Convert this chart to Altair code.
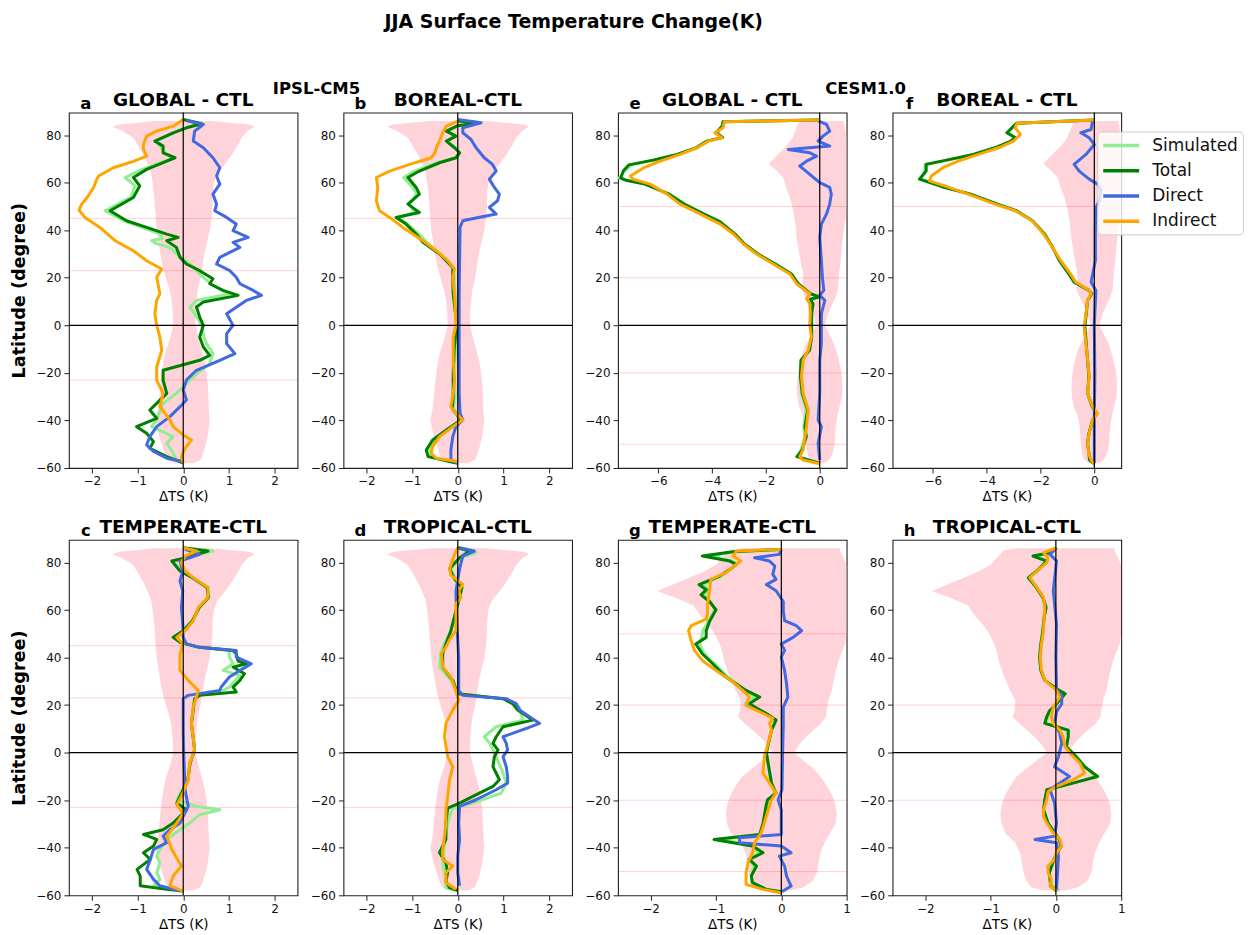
import altair as alt
import pandas as pd

FONT = "DejaVu Sans"
SERIES = ["Simulated", "Total", "Direct", "Indirect"]
COLORS = ["#90ee90", "#008000", "#4169e1", "#ffa500"]
LAT_TICKS = [-60, -40, -20, 0, 20, 40, 60, 80]
LAT_DOMAIN = [-60, 89.5]

# control-run envelopes (lat, low, high)
IPSL_BAND = [(86.0, -0.6, 0.6), (84.5, -1.4, 1.45), (83.5, -1.55, 1.56), (82, -1.35, 1.42), (79, -1.1, 1.28),
             (76, -1.0, 1.2), (72, -0.88, 1.07), (68, -0.78, 0.92), (64, -0.7, 0.75), (60, -0.67, 0.67),
             (55, -0.64, 0.64), (50, -0.62, 0.64), (45, -0.6, 0.62), (40, -0.58, 0.58), (35, -0.54, 0.52),
             (30, -0.5, 0.46), (25, -0.45, 0.42), (20, -0.38, 0.38), (15, -0.3, 0.32), (10, -0.25, 0.29),
             (5, -0.23, 0.27), (0, -0.22, 0.27), (-5, -0.28, 0.33), (-10, -0.37, 0.4), (-15, -0.43, 0.47),
             (-20, -0.47, 0.51), (-25, -0.5, 0.54), (-30, -0.52, 0.55), (-35, -0.55, 0.56), (-40, -0.6, 0.58),
             (-43, -0.57, 0.56), (-47, -0.52, 0.53), (-51, -0.45, 0.48), (-54, -0.4, 0.43), (-56.5, -0.35, 0.38),
             (-58, -0.2, 0.22)]
CESM_BAND = [(86.0, -0.6, 0.9), (85, -0.8, 0.9), (82, -0.9, 0.95), (79, -1.0, 1.0), (76, -1.2, 1.0),
             (72, -1.55, 1.0), (68, -1.9, 1.0), (65, -1.6, 1.0), (62, -1.35, 1.0), (58, -1.25, 1.0),
             (54, -1.12, 1.0), (50, -1.02, 1.0), (46, -0.95, 0.98), (42, -0.9, 0.92), (38, -0.87, 0.87),
             (34, -0.82, 0.83), (30, -0.76, 0.8), (26, -0.7, 0.77), (22, -0.62, 0.72), (18, -0.63, 0.7),
             (15, -0.66, 0.68), (12, -0.55, 0.6), (9, -0.42, 0.47), (5, -0.27, 0.32), (2, -0.18, 0.24),
             (0, -0.14, 0.2), (-3, -0.28, 0.32), (-6, -0.42, 0.46), (-10, -0.6, 0.6), (-14, -0.7, 0.7),
             (-18, -0.78, 0.78), (-22, -0.83, 0.83), (-26, -0.85, 0.85), (-30, -0.83, 0.83), (-34, -0.77, 0.74),
             (-38, -0.62, 0.66), (-42, -0.55, 0.6), (-46, -0.52, 0.57), (-50, -0.5, 0.55), (-54, -0.45, 0.48),
             (-56.5, -0.38, 0.35), (-58, -0.2, 0.15)]

# ---------- IPSL-CM5 : a GLOBAL ----------
A_SIM = [(86.6, 0.0), (84.8, 0.4), (83.1, 0.07), (81.0, -0.2), (77.5, -0.6), (75.4, -0.5), (72.6, -0.4), (70.5, -0.2),
         (68.4, -0.5), (65.6, -0.9), (62.2, -1.27), (58.7, -1.05), (53.8, -1.15), (48.2, -1.71), (44.0, -1.3),
         (41.2, -0.9), (38.4, -0.5), (36.5, -0.45), (35.6, -0.69), (34.5, -0.6), (32.8, -0.3), (28.6, -0.05),
         (25.8, 0.15), (21.6, 0.36), (17.5, 0.6), (14.7, 0.85), (13.3, 1.02), (10.5, 0.29), (7.7, 0.15), (3.5, 0.3),
         (0.0, 0.4), (-4.9, 0.45), (-7.7, 0.51), (-11.9, 0.65), (-16.1, 0.58), (-19.5, 0.35), (-23.0, 0.15),
         (-28.6, -0.15), (-32.8, -0.44), (-39.8, -0.58), (-42.6, -0.69), (-46.8, -0.22), (-49.6, -0.36),
         (-53.6, -0.22), (-56.6, -0.15), (-58.0, 0.0)]
A_TOT = [(86.6, 0.0), (84.8, 0.4), (83.1, 0.07), (81.0, -0.22), (77.5, -0.62), (75.4, -0.44), (72.6, -0.44),
         (70.5, -0.18), (68.4, -0.44), (65.6, -0.8), (62.2, -1.09), (58.7, -0.95), (53.8, -1.09), (48.2, -1.6),
         (44.0, -1.24), (41.2, -0.8), (38.4, -0.36), (37.0, -0.11), (35.6, -0.36), (32.8, -0.15), (28.6, -0.07),
         (25.8, 0.07), (23.0, 0.36), (19.6, 0.65), (17.5, 0.58), (14.7, 0.87), (12.6, 1.2), (9.8, 0.44), (7.7, 0.29),
         (3.5, 0.36), (0.0, 0.44), (-4.9, 0.36), (-9.1, 0.44), (-12.6, 0.58), (-14.7, 0.36), (-18.9, -0.44),
         (-23.0, -0.44), (-28.6, -0.36), (-32.8, -0.58), (-35.6, -0.73), (-39.1, -0.58), (-42.6, -1.02),
         (-45.4, -0.8), (-48.9, -0.65), (-51.7, -0.73), (-55.2, -0.36), (-57.3, -0.07), (-58.0, 0.0)]
A_DIR = [(86.2, 0.07), (84.5, 0.44), (81.7, 0.25), (77.5, 0.22), (74.7, 0.44), (70.5, 0.65), (66.3, 0.8), (62.8, 0.73),
         (59.4, 0.8), (55.2, 0.65), (51.0, 0.73), (48.2, 0.69), (45.4, 0.95), (42.6, 1.16), (39.8, 1.09), (37.0, 1.42),
         (34.9, 1.09), (32.8, 1.24), (28.6, 0.8), (25.8, 0.73), (23.0, 1.02), (20.2, 1.16), (17.5, 1.24), (14.7, 1.53),
         (12.6, 1.71), (10.5, 1.38), (4.9, 0.95), (0.0, 1.09), (-3.5, 0.95), (-7.7, 0.95), (-11.9, 1.13), (-14.7, 0.8),
         (-18.9, 0.29), (-23.0, 0.07), (-27.2, 0.0), (-31.4, 0.07), (-34.2, -0.07), (-38.4, -0.29), (-42.6, -0.58),
         (-46.8, -0.73), (-50.3, -0.8), (-53.0, -0.65), (-55.9, -0.36), (-57.3, 0.0)]
A_IND = [(86.6, 0.0), (83.8, -0.22), (81.7, -0.58), (79.6, -0.8), (76.1, -0.87), (74.0, -0.87), (71.2, -0.8),
         (69.0, -1.09), (66.3, -1.53), (62.8, -1.85), (61.5, -1.89), (58.0, -1.96), (53.8, -2.1), (51.0, -2.22),
         (48.5, -2.28), (45.4, -2.15), (41.2, -1.82), (35.6, -1.49), (31.4, -1.09), (27.2, -0.8), (23.7, -0.47),
         (20.2, -0.58), (13.3, -0.51), (10.5, -0.58), (4.9, -0.62), (0.0, -0.58), (-4.9, -0.51), (-10.5, -0.47),
         (-17.5, -0.58), (-23.0, -0.58), (-28.6, -0.44), (-34.2, -0.51), (-39.8, -0.29), (-42.6, -0.22),
         (-46.1, 0.0), (-48.2, 0.18), (-51.7, 0.04), (-55.2, -0.04), (-58.0, 0.0)]

# ---------- IPSL-CM5 : b BOREAL ----------
B_SIM = [(86.0, 0.0), (85.2, 0.5), (84.0, 0.0), (81.7, -0.22), (79.6, -0.05), (77.5, -0.22), (74.7, -0.05), (72.6, 0.05),
         (70.5, -0.02), (68.4, -0.45), (64.9, -0.95), (62.2, -1.18), (58.0, -0.98), (55.2, -0.9), (51.0, -1.05),
         (47.5, -0.95), (45.4, -1.3), (42.6, -1.1), (38.4, -0.85), (34.9, -0.68), (30.0, -0.38), (24.4, -0.1),
         (20.2, -0.08), (13.3, -0.06), (0.0, 0.0), (-10, -0.05), (-20, -0.08), (-30, -0.06), (-35, -0.1),
         (-39.8, 0.1), (-44.0, -0.22), (-48.2, -0.5), (-52.4, -0.62), (-55.2, -0.6), (-57.3, -0.15), (-58.0, 0.0)]
B_TOT = [(86.0, 0.0), (85.2, 0.47), (84.0, 0.0), (81.7, -0.25), (79.6, -0.04), (77.5, -0.25), (74.7, -0.07),
         (72.6, 0.04), (70.5, -0.04), (68.4, -0.4), (64.9, -0.84), (62.2, -1.09), (58.0, -0.91), (55.2, -0.84),
         (51.0, -1.09), (47.5, -0.84), (45.4, -1.35), (42.6, -1.13), (38.4, -0.91), (34.9, -0.76), (30.0, -0.4),
         (24.4, -0.11), (20.2, -0.11), (13.3, -0.1), (4.9, -0.05), (0.0, -0.02), (-10, -0.08), (-20, -0.1),
         (-30, -0.1), (-35, -0.12), (-39.8, 0.07), (-44.0, -0.25), (-48.2, -0.55), (-52.4, -0.69), (-55.2, -0.65),
         (-57.3, -0.18), (-58.0, 0.0)]
B_DIR = [(86.6, 0.0), (85.2, 0.51), (83.1, 0.11), (81.0, 0.11), (78.2, 0.29), (74.7, 0.4), (70.5, 0.58), (67.7, 0.76),
         (64.9, 0.84), (61.5, 0.69), (58.0, 0.8), (55.2, 0.91), (52.4, 0.87), (49.6, 0.69), (46.8, 0.84), (45.4, 0.45),
         (44.0, 0.11), (41.2, 0.05), (27.2, 0.04), (13.3, 0.03), (0.0, 0.03), (-14.7, 0.03), (-28.6, 0.03),
         (-37.0, 0.05), (-39.8, 0.11), (-42.6, -0.04), (-46.8, -0.11), (-52.4, -0.15), (-56.6, -0.15), (-58.0, 0.0)]
B_IND = [(85.9, 0.0), (83.8, -0.25), (81.0, -0.33), (77.5, -0.4), (74.7, -0.47), (72.6, -0.5), (70.5, -0.58),
         (67.7, -1.05), (64.9, -1.49), (62.2, -1.78), (58.0, -1.75), (52.4, -1.78), (48.2, -1.71), (45.4, -1.49),
         (41.2, -1.2), (35.6, -0.76), (31.4, -0.47), (27.2, -0.22), (23.7, -0.07), (20.2, -0.11), (13.3, -0.07),
         (4.9, -0.05), (0.0, -0.04), (-4.9, -0.1), (-14.7, -0.1), (-23.0, -0.07), (-28.6, -0.1), (-34.2, -0.15),
         (-37.0, -0.04), (-39.8, 0.11), (-42.6, -0.11), (-46.8, -0.4), (-51.0, -0.55), (-53.8, -0.58),
         (-55.9, -0.47), (-57.3, 0.0)]

# ---------- IPSL-CM5 : c TEMPERATE ----------
C_SIM = [(86.2, 0.0), (84.8, 0.65), (82.0, 0.07), (80.6, -0.22), (76.4, -0.05), (73.6, 0.22), (69.5, 0.55), (65.3, 0.56),
         (61.1, 0.36), (55.5, 0.22), (51.3, 0.02), (48.5, -0.2), (46.4, -0.05), (44.3, 0.3), (43.0, 1.0), (40.2, 1.01),
         (37.4, 1.09), (34.6, 0.87), (32.5, 1.24), (27.6, 1.01), (25.5, 0.8), (24.1, 0.3), (22.7, 0.25), (12.3, 0.18),
         (1.1, 0.25), (-4.5, 0.15), (-11.4, 0.1), (-18.4, -0.1), (-19.8, -0.14), (-22.6, 0.29), (-24.0, 0.8),
         (-26.1, 0.36), (-29.6, 0.14), (-32.4, -0.07), (-36.5, -0.36), (-40.7, -0.51), (-43.5, -0.58), (-46.3, -0.51),
         (-50.5, -0.58), (-53.3, -0.51), (-56.0, -0.65), (-58.2, 0.0)]
C_TOT = [(86.2, 0.0), (84.8, 0.54), (82.0, 0.07), (80.6, -0.25), (76.4, -0.07), (73.6, 0.2), (69.5, 0.52), (65.3, 0.55),
         (61.1, 0.35), (55.5, 0.2), (51.3, 0.0), (48.5, -0.22), (46.4, -0.07), (44.3, 0.36), (43.0, 1.09), (41.6, 1.16),
         (38.5, 1.2), (37.4, 1.38), (36.0, 1.09), (33.2, 1.34), (30.4, 1.24), (27.6, 1.09), (25.5, 1.16), (24.1, 0.36),
         (22.7, 0.25), (12.3, 0.18), (1.1, 0.25), (-4.5, 0.15), (-11.4, 0.1), (-18.4, -0.07), (-21.2, -0.14),
         (-24.0, 0.07), (-29.6, -0.22), (-32.4, -0.44), (-34.4, -0.87), (-36.5, -0.58), (-39.3, -0.65), (-42.1, -0.87),
         (-44.9, -0.72), (-49.1, -1.01), (-51.9, -0.94), (-56.0, -0.94), (-57.5, -0.36), (-58.2, 0.0)]
C_DIR = [(85.5, 0.04), (83.4, 0.36), (80.6, -0.07), (76.4, -0.01), (72.2, -0.07), (68.0, -0.01), (61.0, -0.04),
         (54.0, -0.01), (48.5, 0.0), (45.7, 0.07), (44.3, 0.36), (43.0, 1.16), (40.2, 1.16), (37.4, 1.49), (34.6, 1.24),
         (31.8, 1.01), (27.6, 0.83), (26.2, 0.8), (24.1, 0.11), (22.7, 0.0), (10.0, 0.0), (0.0, 0.01), (-15.6, 0.04),
         (-22.6, 0.11), (-26.8, 0.0), (-29.6, -0.07), (-32.4, -0.29), (-35.1, -0.44), (-37.9, -0.36), (-40.7, -0.65),
         (-44.9, -0.72), (-49.1, -0.8), (-53.3, -0.65), (-56.0, -0.51), (-58.2, -0.07)]
C_IND = [(86.2, 0.0), (84.8, 0.29), (82.7, 0.04), (79.9, -0.04), (76.4, 0.04), (73.6, 0.22), (69.5, 0.54), (65.3, 0.54),
         (61.1, 0.33), (55.5, 0.22), (51.3, 0.04), (48.5, -0.14), (45.7, 0.0), (41.6, -0.07), (34.6, -0.07),
         (30.4, 0.11), (26.2, 0.33), (19.2, 0.22), (12.3, 0.18), (1.1, 0.25), (-4.5, 0.14), (-11.4, 0.11),
         (-18.4, -0.04), (-21.9, -0.14), (-25.4, 0.0), (-29.6, -0.14), (-35.1, -0.36), (-40.7, -0.25), (-47.7, -0.04),
         (-51.9, -0.22), (-56.0, -0.29), (-58.2, 0.0)]

# ---------- IPSL-CM5 : d TROPICAL ----------
D_SIM = [(86.2, 0.0), (84.1, 0.4), (82.0, 0.05), (77.4, -0.15), (73.0, -0.05), (69.5, 0.1), (65.3, 0.05), (59.7, -0.03),
         (51.3, -0.15), (45.7, -0.3), (41.6, -0.38), (36.0, -0.4), (30.4, -0.15), (24.8, 0.0), (22.7, 0.99),
         (19.2, 1.35), (13.7, 1.42), (10.9, 0.84), (6.7, 0.58), (3.9, 0.7), (-1.7, 0.84), (-8.6, 0.99), (-12.8, 1.06),
         (-17.0, 0.95), (-21.2, 0.33), (-23.3, -0.11), (-29.6, -0.22), (-40.0, -0.3), (-47.0, -0.33), (-54.0, -0.25),
         (-56.8, -0.26), (-58.0, 0.0)]
D_TOT = [(86.2, 0.0), (84.8, 0.26), (82.0, 0.04), (77.4, -0.18), (73.0, -0.07), (69.5, 0.09), (65.3, 0.04),
         (59.7, -0.04), (51.3, -0.15), (45.7, -0.26), (41.6, -0.33), (36.0, -0.33), (30.4, -0.11), (24.8, 0.0),
         (22.7, 0.99), (20.6, 1.2), (17.9, 1.31), (13.7, 1.64), (10.9, 0.99), (6.7, 0.84), (3.9, 0.77), (1.1, 0.88),
         (-1.7, 0.8), (-5.9, 0.77), (-11.4, 0.91), (-14.2, 0.77), (-18.4, 0.33), (-21.2, 0.04), (-23.3, -0.22),
         (-29.6, -0.26), (-36.5, -0.26), (-42.1, -0.4), (-46.3, -0.26), (-50.5, -0.22), (-54.0, -0.26),
         (-56.8, -0.18), (-58.0, 0.0)]
D_DIR = [(86.2, 0.04), (84.8, 0.36), (82.7, 0.11), (77.4, 0.04), (68.0, -0.04), (54.1, -0.02), (40.2, 0.02),
         (26.2, 0.02), (24.1, 0.11), (22.7, 1.06), (20.6, 1.28), (17.9, 1.35), (15.1, 1.57), (12.3, 1.79),
         (10.2, 1.5), (6.7, 0.99), (3.9, 1.06), (1.1, 1.09), (-1.7, 0.99), (-5.9, 1.06), (-10.0, 1.09),
         (-12.8, 1.09), (-15.6, 0.84), (-19.8, 0.4), (-22.6, 0.04), (-29.6, 0.02), (-36.5, 0.04), (-43.5, 0.0),
         (-50.5, 0.0), (-56.0, 0.04)]
D_IND = [(86.2, 0.0), (83.4, -0.07), (77.4, -0.18), (74.6, -0.15), (70.8, 0.11), (68.0, 0.02), (65.3, 0.07),
         (62.5, -0.04), (56.9, -0.04), (51.3, -0.04), (48.5, -0.15), (44.4, -0.26), (41.6, -0.36), (36.0, -0.33),
         (31.8, -0.15), (27.6, -0.07), (22.0, 0.02), (17.9, -0.11), (12.3, -0.26), (6.7, -0.29), (-1.7, -0.22),
         (-5.9, -0.11), (-11.4, -0.18), (-18.4, -0.22), (-24.0, -0.26), (-29.6, -0.26), (-35.1, -0.29),
         (-40.7, -0.33), (-44.9, -0.33), (-47.7, -0.11), (-50.5, -0.26), (-54.7, -0.26), (-57.5, -0.04)]

# ---------- CESM1.0 : e GLOBAL ----------
E_SIM = [(86.4, 0.0), (85.6, -3.6), (84.0, -3.6), (81.0, -3.8), (79.0, -3.6), (77.5, -4.15), (74.7, -4.55), (71.9, -5.25),
         (69.5, -6.15), (67.5, -7.0), (65.0, -7.25), (62.0, -7.45), (61.0, -7.2), (59.4, -6.45), (55.2, -5.6),
         (51.0, -5.0), (46.8, -4.3), (43.5, -3.7), (42.6, -3.62), (38.4, -3.15), (34.2, -2.8), (30.0, -2.3),
         (25.8, -1.68), (21.6, -1.05), (17.5, -0.8), (13.3, -0.33), (12.0, -0.02), (11.0, -0.33), (9.0, -0.28),
         (5.0, -0.3), (0.0, -0.32), (-5.0, -0.3), (-10.5, -0.4), (-14.7, -0.68), (-21.6, -0.7), (-28.6, -0.68),
         (-35.6, -0.5), (-42.6, -0.6), (-46.8, -0.55), (-52.4, -0.7), (-55.2, -0.8), (-58.0, 0.0)]
E_TOT = [(86.4, 0.0), (85.6, -3.6), (84.0, -3.62), (81.0, -3.85), (79.0, -3.62), (77.5, -4.2), (74.7, -4.6),
         (71.9, -5.3), (69.5, -6.2), (67.5, -7.1), (65.0, -7.3), (62.0, -7.4), (61.0, -7.2), (59.4, -6.5),
         (55.2, -5.6), (51.0, -5.05), (46.8, -4.3), (43.5, -3.7), (42.6, -3.6), (38.4, -3.15), (34.2, -2.8),
         (30.0, -2.3), (25.8, -1.65), (21.6, -1.05), (17.5, -0.8), (13.3, -0.35), (12.0, 0.0), (11.0, -0.35),
         (9.0, -0.25), (5.0, -0.3), (0.0, -0.3), (-5.0, -0.3), (-10.5, -0.38), (-14.7, -0.7), (-21.6, -0.72),
         (-28.6, -0.65), (-35.6, -0.45), (-42.6, -0.55), (-46.8, -0.5), (-52.4, -0.65), (-55.2, -0.85), (-58.0, 0.0)]
E_DIR = [(86.0, -0.06), (84.5, 0.25), (81.7, 0.37), (79.6, 0.12), (77.5, -0.06), (75.4, 0.37), (74.0, -1.17),
         (72.6, -0.37), (71.2, -0.12), (69.1, -0.49), (67.0, -0.74), (63.5, -0.37), (60.0, 0.0), (58.0, 0.37),
         (55.2, 0.43), (51.0, 0.37), (46.8, 0.25), (42.6, 0.06), (37.0, 0.0), (27.2, 0.06), (20.2, 0.1), (14.7, 0.15),
         (12.6, 0.0), (10.5, 0.19), (4.9, 0.06), (0.0, 0.06), (-7.7, 0.06), (-14.7, 0.0), (-28.6, 0.0),
         (-39.8, -0.06), (-42.6, 0.06), (-49.6, -0.06), (-56.6, 0.0)]
E_IND = [(86.4, 0.0), (85.6, -3.55), (83.1, -3.6), (81.0, -3.9), (78.9, -3.64), (77.5, -4.14), (74.7, -4.57),
         (71.9, -5.19), (69.1, -5.93), (66.3, -6.54), (62.8, -7.04), (61.5, -6.95), (59.4, -6.3), (55.2, -5.68),
         (51.0, -5.19), (46.8, -4.44), (42.6, -3.7), (38.4, -3.21), (34.2, -2.84), (30.0, -2.35), (25.8, -1.73),
         (21.6, -1.11), (17.5, -0.86), (13.3, -0.37), (11.2, -0.49), (9.1, -0.37), (4.9, -0.35), (0.0, -0.37),
         (-4.9, -0.31), (-10.5, -0.43), (-14.7, -0.62), (-21.6, -0.68), (-28.6, -0.62), (-35.6, -0.43),
         (-42.6, -0.49), (-46.8, -0.55), (-52.4, -0.62), (-55.2, -0.74), (-56.6, -0.62), (-58.2, 0.0)]

# ---------- CESM1.0 : f BOREAL ----------
F_SIM = [(86.4, 0.0), (85.0, -2.9), (84.5, -2.95), (81.0, -3.2), (79.0, -2.95), (77.5, -3.05), (74.7, -3.65),
         (71.9, -4.45), (69.5, -5.45), (67.7, -6.3), (64.9, -6.3), (61.5, -6.45), (58.0, -5.5), (55.2, -4.6),
         (51.0, -3.62), (48.2, -2.9), (44.0, -2.3), (38.4, -1.85), (32.8, -1.55), (27.2, -1.28), (21.6, -0.92),
         (18.2, -0.72), (14.7, -0.2), (13.3, -0.1), (10.5, -0.25), (4.9, -0.3), (-0.7, -0.36), (-7.7, -0.3),
         (-14.7, -0.25), (-21.6, -0.2), (-28.6, -0.25), (-34.2, -0.07), (-37.0, 0.1), (-39.8, -0.06), (-45.4, -0.2),
         (-49.6, -0.25), (-53.8, -0.2), (-56.6, -0.15), (-58.3, 0.0)]
F_TOT = [(86.4, 0.0), (85.0, -2.9), (84.5, -2.94), (81.0, -3.25), (79.0, -2.95), (77.5, -3.1), (74.7, -3.7),
         (71.9, -4.5), (69.5, -5.5), (67.7, -6.25), (64.9, -6.25), (61.5, -6.5), (58.0, -5.56), (55.2, -4.6),
         (51.0, -3.6), (48.2, -2.9), (44.0, -2.3), (38.4, -1.85), (32.8, -1.55), (27.2, -1.3), (21.6, -0.95),
         (18.2, -0.75), (14.7, -0.2), (13.3, -0.1), (10.5, -0.25), (4.9, -0.3), (-0.7, -0.35), (-7.7, -0.3),
         (-14.7, -0.25), (-21.6, -0.2), (-28.6, -0.25), (-34.2, -0.08), (-37.0, 0.1), (-39.8, -0.06), (-45.4, -0.2),
         (-49.6, -0.25), (-53.8, -0.2), (-56.6, -0.18), (-58.3, 0.0)]
F_DIR = [(86.4, -0.06), (82.4, -0.12), (81.0, -0.5), (78.9, -0.19), (76.1, 0.0), (71.9, -0.31), (67.7, -0.75),
         (64.9, -0.56), (61.5, -0.19), (59.4, 0.12), (56.6, 0.25), (52.4, 0.19), (49.6, 0.06), (41.2, 0.04),
         (27.2, 0.04), (18.2, -0.12), (14.7, 0.06), (0.0, 0.0), (-20.0, 0.02), (-40.0, 0.0), (-58.0, 0.0)]
F_IND = [(86.4, 0.0), (85.0, -2.88), (83.1, -2.94), (80.3, -2.75), (77.5, -3.0), (74.7, -3.56), (71.9, -4.31),
         (69.1, -5.06), (66.3, -5.63), (62.8, -6.06), (60.8, -6.13), (58.7, -5.56), (55.2, -4.69), (51.0, -3.69),
         (48.2, -2.94), (44.0, -2.31), (38.4, -1.88), (32.8, -1.56), (27.2, -1.25), (21.6, -0.88), (18.2, -0.69),
         (14.7, -0.19), (13.3, -0.12), (10.5, -0.25), (4.9, -0.31), (-0.7, -0.38), (-7.7, -0.31), (-14.7, -0.25),
         (-21.6, -0.19), (-28.6, -0.25), (-34.2, -0.06), (-37.0, 0.12), (-39.8, -0.06), (-45.4, -0.19),
         (-49.6, -0.25), (-53.8, -0.21), (-56.6, -0.12), (-58.3, 0.0)]

# ---------- CESM1.0 : g TEMPERATE ----------
G_SIM = [(85.5, 0.0), (84.5, -0.72), (82.7, -1.1), (80.6, -0.75), (79.2, -0.68), (77.0, -0.78), (74.2, -0.92),
         (70.7, -1.2), (68.5, -1.12), (66.4, -1.18), (63.6, -1.08), (60.1, -1.02), (55.2, -1.12), (51.3, -1.2),
         (48.5, -1.22), (45.7, -1.25), (41.6, -1.18), (37.4, -1.02), (31.8, -0.82), (26.2, -0.55), (23.4, -0.4),
         (20.6, -0.55), (16.5, -0.25), (13.7, -0.1), (9.5, -0.15), (0.0, -0.22), (-12.8, -0.16), (-17.0, -0.1),
         (-19.8, -0.2), (-21.9, -0.22), (-29.6, -0.27), (-34.4, -0.32), (-36.5, -0.9), (-37.9, -0.65),
         (-39.3, -0.45), (-42.1, -0.35), (-44.9, -0.5), (-47.7, -0.42), (-51.9, -0.46), (-54.7, -0.45),
         (-57.5, -0.23), (-58.5, 0.0)]
G_TOT = [(85.5, 0.0), (84.5, -0.74), (82.7, -1.21), (80.6, -0.79), (79.2, -0.69), (77.0, -0.79), (74.2, -0.95),
         (70.7, -1.26), (68.5, -1.15), (66.4, -1.23), (63.6, -1.1), (60.1, -1.0), (55.2, -1.1), (51.3, -1.15),
         (48.5, -1.15), (45.7, -1.31), (41.6, -1.21), (37.4, -1.05), (31.8, -0.85), (26.2, -0.54), (23.4, -0.33),
         (20.6, -0.49), (16.5, -0.23), (13.7, -0.08), (9.5, -0.15), (0.0, -0.23), (-12.8, -0.15), (-17.0, -0.08),
         (-19.8, -0.21), (-21.9, -0.23), (-29.6, -0.28), (-34.4, -0.33), (-36.5, -1.03), (-37.9, -0.74),
         (-39.3, -0.44), (-42.1, -0.28), (-44.9, -0.49), (-47.7, -0.38), (-51.9, -0.46), (-54.7, -0.44),
         (-57.5, -0.23), (-58.5, 0.0)]
G_DIR = [(85.5, 0.0), (83.4, -0.03), (82.0, -0.41), (80.6, -0.18), (78.5, -0.1), (75.0, -0.13), (72.9, -0.08),
         (70.7, -0.23), (68.1, -0.08), (63.6, 0.03), (59.7, 0.03), (55.5, 0.05), (53.4, 0.23), (51.3, 0.31),
         (48.5, 0.18), (45.7, 0.0), (43.0, 0.05), (40.2, 0.0), (34.6, 0.05), (29.0, 0.08), (23.4, 0.1), (19.2, 0.03),
         (12.3, 0.03), (0.0, 0.02), (-15.6, 0.01), (-19.8, -0.05), (-24.0, 0.0), (-34.4, 0.0), (-35.8, -0.64),
         (-37.9, -0.64), (-39.3, 0.0), (-42.1, 0.15), (-43.5, -0.03), (-47.7, 0.05), (-51.9, 0.08), (-56.1, 0.15),
         (-58.5, 0.01)]
G_IND = [(85.5, 0.0), (84.8, -0.69), (82.7, -0.74), (80.6, -0.62), (78.5, -0.72), (75.7, -0.85), (72.9, -1.08),
         (68.1, -1.1), (62.5, -1.13), (58.3, -1.13), (56.2, -1.15), (53.4, -1.38), (51.3, -1.42), (47.1, -1.38),
         (43.0, -1.33), (38.8, -1.21), (34.6, -1.0), (30.4, -0.77), (26.2, -0.59), (23.4, -0.49), (19.9, -0.54),
         (17.2, -0.33), (14.4, -0.13), (12.3, -0.18), (9.5, -0.15), (3.9, -0.2), (-1.7, -0.26), (-8.6, -0.28),
         (-12.8, -0.18), (-17.0, -0.08), (-19.8, -0.15), (-24.0, -0.2), (-29.6, -0.26), (-33.8, -0.31),
         (-37.9, -0.41), (-42.1, -0.44), (-46.3, -0.51), (-50.5, -0.54), (-55.4, -0.54), (-57.5, -0.28), (-59.0, 0.0)]

# ---------- CESM1.0 : h TROPICAL ----------
H_SIM = [(86.2, 0.01), (84.1, -0.12), (82.7, -0.3), (80.6, -0.14), (76.4, -0.3), (73.6, -0.43), (69.5, -0.3),
         (65.3, -0.2), (61.1, -0.15), (56.9, -0.18), (51.3, -0.2), (45.7, -0.23), (40.2, -0.25), (34.6, -0.23),
         (30.4, -0.17), (26.2, 0.05), (24.8, 0.15), (20.6, 0.02), (17.5, -0.1), (15.1, -0.12), (12.3, -0.15),
         (11.0, 0.0), (9.5, 0.17), (6.7, 0.18), (2.5, 0.17), (-1.7, 0.32), (-5.9, 0.45), (-10.0, 0.6), (-12.8, 0.27),
         (-15.6, -0.12), (-19.8, -0.16), (-24.0, -0.18), (-29.6, -0.12), (-36.5, 0.06), (-39.3, 0.08),
         (-44.9, -0.03), (-50.5, -0.1), (-56.1, -0.05), (-58.2, 0.05)]
H_TOT = [(86.2, 0.01), (84.1, -0.09), (82.7, -0.35), (80.6, -0.14), (76.4, -0.29), (73.6, -0.42), (69.5, -0.3),
         (65.3, -0.2), (61.1, -0.15), (56.9, -0.18), (51.3, -0.2), (45.7, -0.23), (40.2, -0.25), (34.6, -0.23),
         (30.4, -0.17), (26.2, 0.05), (24.8, 0.14), (20.6, 0.01), (17.5, -0.1), (15.1, -0.14), (12.3, -0.17),
         (11.0, 0.0), (9.5, 0.19), (6.7, 0.19), (2.5, 0.16), (-1.7, 0.31), (-5.9, 0.44), (-10.0, 0.64),
         (-12.8, 0.26), (-15.6, -0.14), (-19.8, -0.17), (-24.0, -0.19), (-29.6, -0.12), (-36.5, 0.05),
         (-39.3, 0.08), (-44.9, -0.03), (-50.5, -0.1), (-56.1, -0.08), (-58.2, 0.01)]
H_DIR = [(86.2, 0.01), (83.4, -0.09), (80.6, 0.01), (68.1, -0.04), (54.1, 0.01), (40.2, 0.0), (26.2, 0.01),
         (24.1, 0.09), (20.6, 0.09), (17.2, 0.01), (12.3, -0.02), (8.1, 0.06), (3.9, 0.09), (-1.7, 0.04),
         (-5.9, -0.02), (-10.0, 0.21), (-14.2, -0.02), (-15.6, -0.09), (-21.2, -0.02), (-29.6, 0.01), (-35.1, -0.02),
         (-36.5, -0.32), (-37.9, 0.01), (-43.5, 0.04), (-57.5, 0.01)]
H_IND = [(86.2, 0.01), (84.1, -0.19), (82.0, -0.12), (79.9, -0.14), (76.4, -0.29), (73.6, -0.4), (69.5, -0.29),
         (65.3, -0.19), (61.1, -0.17), (56.9, -0.18), (51.3, -0.19), (45.7, -0.22), (40.2, -0.24), (34.6, -0.22),
         (30.4, -0.17), (26.2, 0.01), (23.4, 0.06), (19.2, -0.04), (15.1, -0.07), (12.3, -0.04), (9.5, 0.06),
         (6.7, 0.11), (2.5, 0.14), (-1.0, 0.24), (-4.5, 0.37), (-8.6, 0.44), (-11.4, 0.26), (-14.2, 0.01),
         (-16.3, -0.12), (-19.8, -0.14), (-24.0, -0.19), (-26.8, -0.19), (-29.6, -0.14), (-33.8, -0.04),
         (-36.5, 0.06), (-39.3, 0.09), (-42.1, 0.01), (-44.9, -0.02), (-47.7, -0.12), (-50.5, -0.12),
         (-53.3, -0.07), (-56.1, -0.09), (-58.2, 0.01)]

IPSL_X = [-2.5, 2.5]
IPSL_TICKS = [-2, -1, 0, 1, 2]
CESM_WIDE_X = [-7.5, 1]
CESM_WIDE_TICKS = [-6, -4, -2, 0]
CESM_X = [-2.5, 1]
CESM_TICKS = [-2, -1, 0, 1]

PANELS = {
    "a": dict(title="GLOBAL - CTL", lines=[A_SIM, A_TOT, A_DIR, A_IND], band=IPSL_BAND, hl=[45, 23, -23], xd=IPSL_X, xt=IPSL_TICKS),
    "b": dict(title="BOREAL-CTL", lines=[B_SIM, B_TOT, B_DIR, B_IND], band=IPSL_BAND, hl=[45], xd=IPSL_X, xt=IPSL_TICKS),
    "c": dict(title="TEMPERATE-CTL", lines=[C_SIM, C_TOT, C_DIR, C_IND], band=IPSL_BAND, hl=[45, 23, -23], xd=IPSL_X, xt=IPSL_TICKS),
    "d": dict(title="TROPICAL-CTL", lines=[D_SIM, D_TOT, D_DIR, D_IND], band=IPSL_BAND, hl=[23, -23], xd=IPSL_X, xt=IPSL_TICKS),
    "e": dict(title="GLOBAL - CTL", lines=[E_SIM, E_TOT, E_DIR, E_IND], band=CESM_BAND, hl=[50, 20, -20, -50], xd=CESM_WIDE_X, xt=CESM_WIDE_TICKS),
    "f": dict(title="BOREAL - CTL", lines=[F_SIM, F_TOT, F_DIR, F_IND], band=CESM_BAND, hl=[50], xd=CESM_WIDE_X, xt=CESM_WIDE_TICKS),
    "g": dict(title="TEMPERATE-CTL", lines=[G_SIM, G_TOT, G_DIR, G_IND], band=CESM_BAND, hl=[50, 20, -20, -50], xd=CESM_X, xt=CESM_TICKS),
    "h": dict(title="TROPICAL-CTL", lines=[H_SIM, H_TOT, H_DIR, H_IND], band=CESM_BAND, hl=[20, -20], xd=CESM_X, xt=CESM_TICKS),
}
MODEL_TITLES = {"a": "IPSL-CM5", "e": "CESM1.0"}

W, H = 229, 356

color_scale = alt.Scale(domain=SERIES, range=COLORS)
LEGEND = alt.Legend(title=None, orient="none", legendX=1030, legendY=19, symbolType="M-2.5,0L2.5,0",
                    symbolStrokeWidth=3.5, symbolSize=207, symbolOffset=10, labelFontSize=17, labelFont=FONT,
                    labelColor="#111111", fillColor="rgba(255,255,255,0.8)", strokeColor="#cccccc",
                    cornerRadius=4, padding=5, rowPadding=8.3, labelOffset=22)


def text_layer(txt, x, y, size):
    df = pd.DataFrame({"t": [txt]})
    return alt.Chart(df).mark_text(font=FONT, fontSize=size, fontWeight="bold", align="center",
                                   baseline="alphabetic", color="black").encode(
        x=alt.value(x), y=alt.value(y), text="t:N")


def make_panel(letter, ytitle):
    p = PANELS[letter]
    xs = alt.Scale(domain=p["xd"], nice=False, zero=False)
    ys = alt.Scale(domain=LAT_DOMAIN, nice=False, zero=False)
    xa = alt.Axis(values=p["xt"], format="d", title="ΔTS (K)")
    ya = alt.Axis(values=LAT_TICKS, format="d", title="Latitude (degree)" if ytitle else None)

    def X(f):
        return alt.X(f"{f}:Q", scale=xs, axis=xa)

    def Y(f):
        return alt.Y(f"{f}:Q", scale=ys, axis=ya)

    bdf = pd.DataFrame(p["band"], columns=["lat", "lo", "hi"])
    band = alt.Chart(bdf).mark_area(orient="horizontal", color="#ffc0cb", opacity=0.7, clip=True).encode(
        y=Y("lat"), x=X("lo"), x2="hi:Q")
    hdf = pd.DataFrame({"lat": p["hl"]})
    hl = alt.Chart(hdf).mark_rule(color="#ff0000", opacity=0.18, strokeWidth=1).encode(y=Y("lat"))
    layers = [band, hl]
    for name, pairs in zip(SERIES, p["lines"]):
        df = pd.DataFrame(pairs, columns=["lat", "val"])
        df["series"] = name
        df["idx"] = range(len(df))
        layers.append(alt.Chart(df).mark_line(strokeWidth=3.0, clip=True, strokeJoin="round").encode(
            x=X("val"), y=Y("lat"), order="idx:Q",
            color=alt.Color("series:N", scale=color_scale, legend=LEGEND)))
    zdf = pd.DataFrame({"z": [0.0]})
    layers.append(alt.Chart(zdf).mark_rule(color="black", strokeWidth=1.2).encode(x=X("z")))
    layers.append(alt.Chart(zdf).mark_rule(color="black", strokeWidth=1.2).encode(y=Y("z")))
    layers.append(text_layer(letter, 17, -4, 16.5))
    layers.append(text_layer(p["title"], W / 2, -7, 18.5))
    if letter in MODEL_TITLES:
        layers.append(text_layer(MODEL_TITLES[letter], W + 19, -19, 16.5))
    return alt.layer(*layers).properties(width=W, height=H)


panels = [make_panel(k, k in "ac") for k in "abefcdgh"]

chart = alt.concat(*panels, columns=4, spacing={"row": 72, "column": 46}, bounds="flush").properties(
    padding={"left": 2, "top": 4, "right": 0, "bottom": 0},
    title=alt.TitleParams("JJA Surface Temperature Change(K)", font=FONT, fontSize=19, fontWeight="bold",
                          color="black", offset=48, anchor="start", frame="group", dx=316)
).configure_view(stroke="#222222", strokeWidth=1.1).configure_axis(
    domain=False, grid=False, ticks=True, tickColor="#222222", tickSize=5, tickWidth=1,
    labelFont=FONT, labelFontSize=12, labelColor="#111111", labelPadding=3, labelFlush=False,
    titleFont=FONT, titleColor="black"
).configure_axisX(
    titleFontSize=13.5, titleFontWeight="normal", titlePadding=3
).configure_axisY(
    titleFontSize=17.7, titleFontWeight="bold", titlePadding=4, minExtent=36, maxExtent=36
)

chart.save("out.html", embed_options={"renderer": "svg", "actions": False})
